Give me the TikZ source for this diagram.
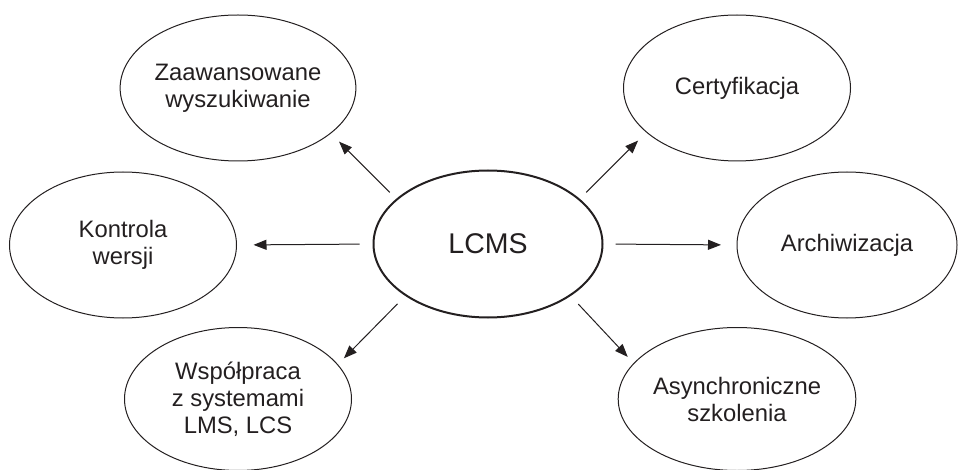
\documentclass[tikz,border=0pt]{standalone}
\usepackage{fontspec}
\setmainfont{Liberation Sans}
\usetikzlibrary{arrows.meta,shapes.geometric}
\definecolor{ink}{HTML}{231F20}
\tikzset{every node/.append style={font=\fontsize{23.8}{27}\selectfont, text=ink}}
\tikzset{topic/.style={draw=ink, line width=1pt, shape=ellipse, inner sep=0pt, outer sep=0pt,
    minimum width=227pt, minimum height=146pt, align=center}}
\tikzset{link/.style={-{Triangle[length=13pt,width=10pt]}, draw=ink, line width=1pt}}

\begin{document}
\begin{tikzpicture}[x=1pt, y=-1pt]
    \useasboundingbox (0,0) rectangle (958,470);

    \node[topic, line width=2pt, minimum width=229pt, minimum height=147pt,
      font=\fontsize{28.5}{32}\selectfont] (lcms) at (488,244) {LCMS};
    \node[topic] (zaaw) at (238,88) {Zaawansowane\\wyszukiwanie};
    \node[topic] (cert) at (737,88) {Certyfikacja};
    \node[topic] (kontrola) at (123,245) {Kontrola\\wersji};
    \node[topic, minimum width=220pt] (arch) at (847,245) {Archiwizacja};
    \node[topic, minimum height=143pt] (wsp) at (238,399) {Współpraca\\z systemami\\LMS, LCS};
    \node[topic, minimum height=143pt] (async) at (737,399) {Asynchroniczne\\szkolenia};

    \draw
      (lcms.154) edge[link, shorten <=10pt, shorten >=12pt] (zaaw.-26)
      (lcms.26) edge[link, shorten <=10pt, shorten >=12pt] (cert.-154)
      (lcms.180) edge[link, shorten <=14pt, shorten >=17pt] (kontrola.0)
      (lcms.0) edge[link, shorten <=13pt, shorten >=16pt] (arch.180)
      (lcms.-148) edge[link, shorten <=12pt, shorten >=9pt] (wsp.19)
      (lcms.-32) edge[link, shorten <=12pt, shorten >=9pt] (async.161);

\end{tikzpicture}
\end{document}
